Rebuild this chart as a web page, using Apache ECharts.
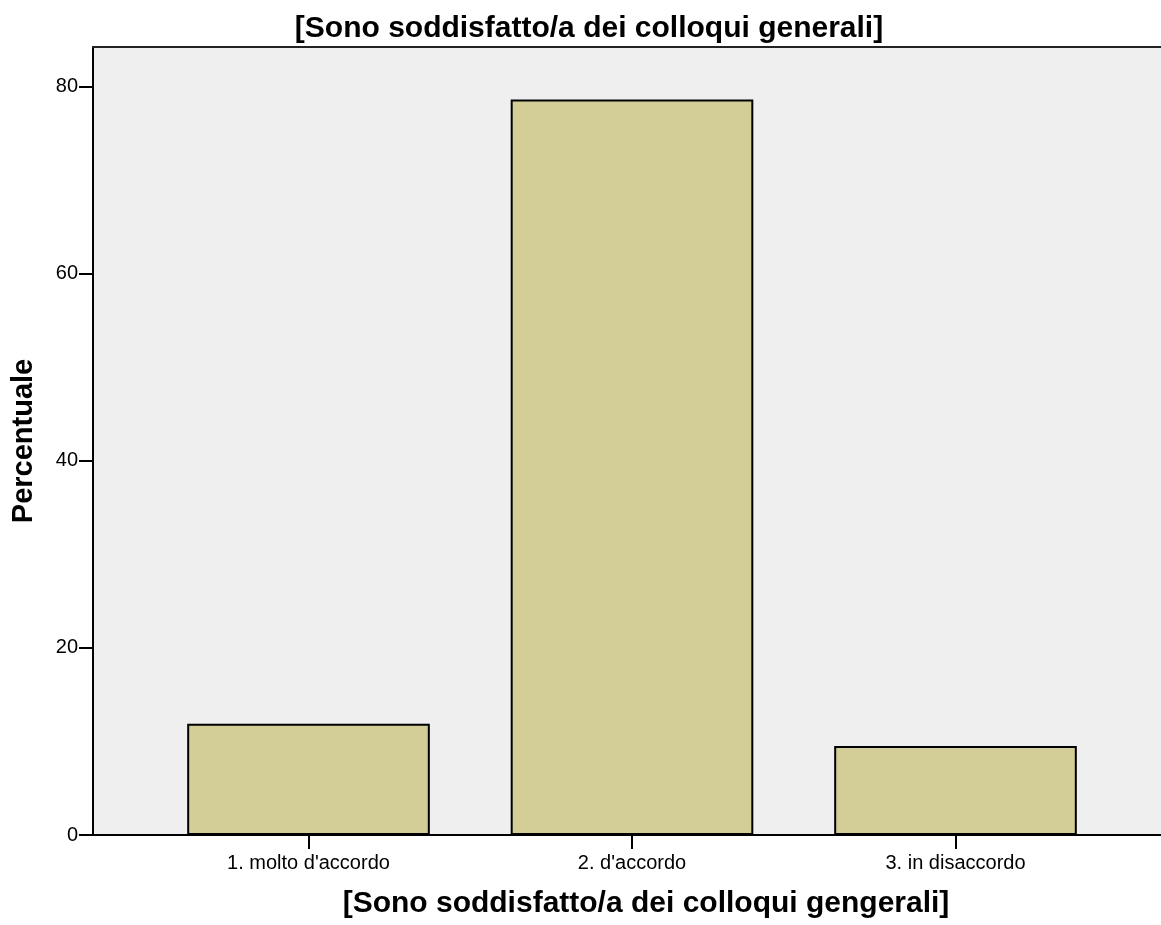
<!DOCTYPE html>
<html>
<head>
<meta charset="utf-8">
<script src="https://cdn.jsdelivr.net/npm/echarts@6/dist/echarts.min.js"></script>
<style>
html,body{margin:0;padding:0;background:#fff;}
#chart{width:1161px;height:925px;}
</style>
</head>
<body>
<div id="chart"></div>
<script>
const chartTitle = "[Sono soddisfatto/a dei colloqui generali]";
const xTitle = "[Sono soddisfatto/a dei colloqui gengerali]";
const yTitle = "Percentuale";
const categories = ["1. molto d'accordo", "2. d'accordo", "3. in disaccordo"];
const values = [11.9, 78.6, 9.5];
const yMin = 0, yMax = 84.2, yInterval = 20;

const FONT = "'Liberation Sans', Arial, sans-serif";
const chart = echarts.init(document.getElementById('chart'), null, {renderer: 'canvas'});

chart.setOption({
  backgroundColor: '#ffffff',
  animation: false,
  title: [
    {text: chartTitle, left: 584, top: 9, textAlign: 'center',
     textStyle: {fontFamily: FONT, fontSize: 30, fontWeight: 'bold', color: '#000'}},
    {text: xTitle, left: 641, top: 884, textAlign: 'center',
     textStyle: {fontFamily: FONT, fontSize: 30, fontWeight: 'bold', color: '#000'}}
  ],
  grid: [
    {left: 93, right: 0, top: 47, bottom: 90, show: true, backgroundColor: '#efefef', borderWidth: 0,
     containLabel: false, outerBoundsMode: 'none'},
    {left: 146.75, right: 43.75, top: 47, bottom: 90, containLabel: false, outerBoundsMode: 'none'}
  ],
  xAxis: [
    {type: 'value', gridIndex: 0, min: 0, max: 1, position: 'bottom',
     axisLine: {show: true, onZero: false, lineStyle: {color: '#000', width: 2}},
     axisTick: {show: false}, axisLabel: {show: false}, splitLine: {show: false}},
    {type: 'value', gridIndex: 0, min: 0, max: 1, position: 'top',
     axisLine: {show: true, onZero: false, lineStyle: {color: '#222', width: 2}},
     axisTick: {show: false}, axisLabel: {show: false}, splitLine: {show: false}},
    {type: 'category', gridIndex: 1, data: categories, position: 'bottom',
     axisLine: {show: false},
     axisTick: {show: true, alignWithLabel: true, length: 14, lineStyle: {color: '#000', width: 2}},
     axisLabel: {fontFamily: FONT, fontSize: 20, color: '#000', margin: 18},
     splitLine: {show: false}}
  ],
  yAxis: [
    {type: 'value', gridIndex: 0, min: yMin, max: yMax, interval: yInterval,
     name: yTitle, nameLocation: 'middle', nameGap: 55, nameRotate: 90,
     nameTextStyle: {fontFamily: FONT, fontSize: 29, fontWeight: 'bold', color: '#000'},
     axisLine: {show: true, onZero: false, lineStyle: {color: '#000', width: 2}},
     axisTick: {show: true, length: 14, lineStyle: {color: '#000', width: 2}},
     axisLabel: {fontFamily: FONT, fontSize: 20, color: '#000', margin: 15, showMaxLabel: false},
     splitLine: {show: false}},
    {type: 'value', gridIndex: 1, min: yMin, max: yMax, interval: yInterval, show: false}
  ],
  series: [{
    type: 'bar', xAxisIndex: 2, yAxisIndex: 1, data: values, barWidth: '75%',
    itemStyle: {color: '#d3ce97', borderColor: '#000', borderWidth: 2},
    silent: true
  }]
});
</script>
</body>
</html>
